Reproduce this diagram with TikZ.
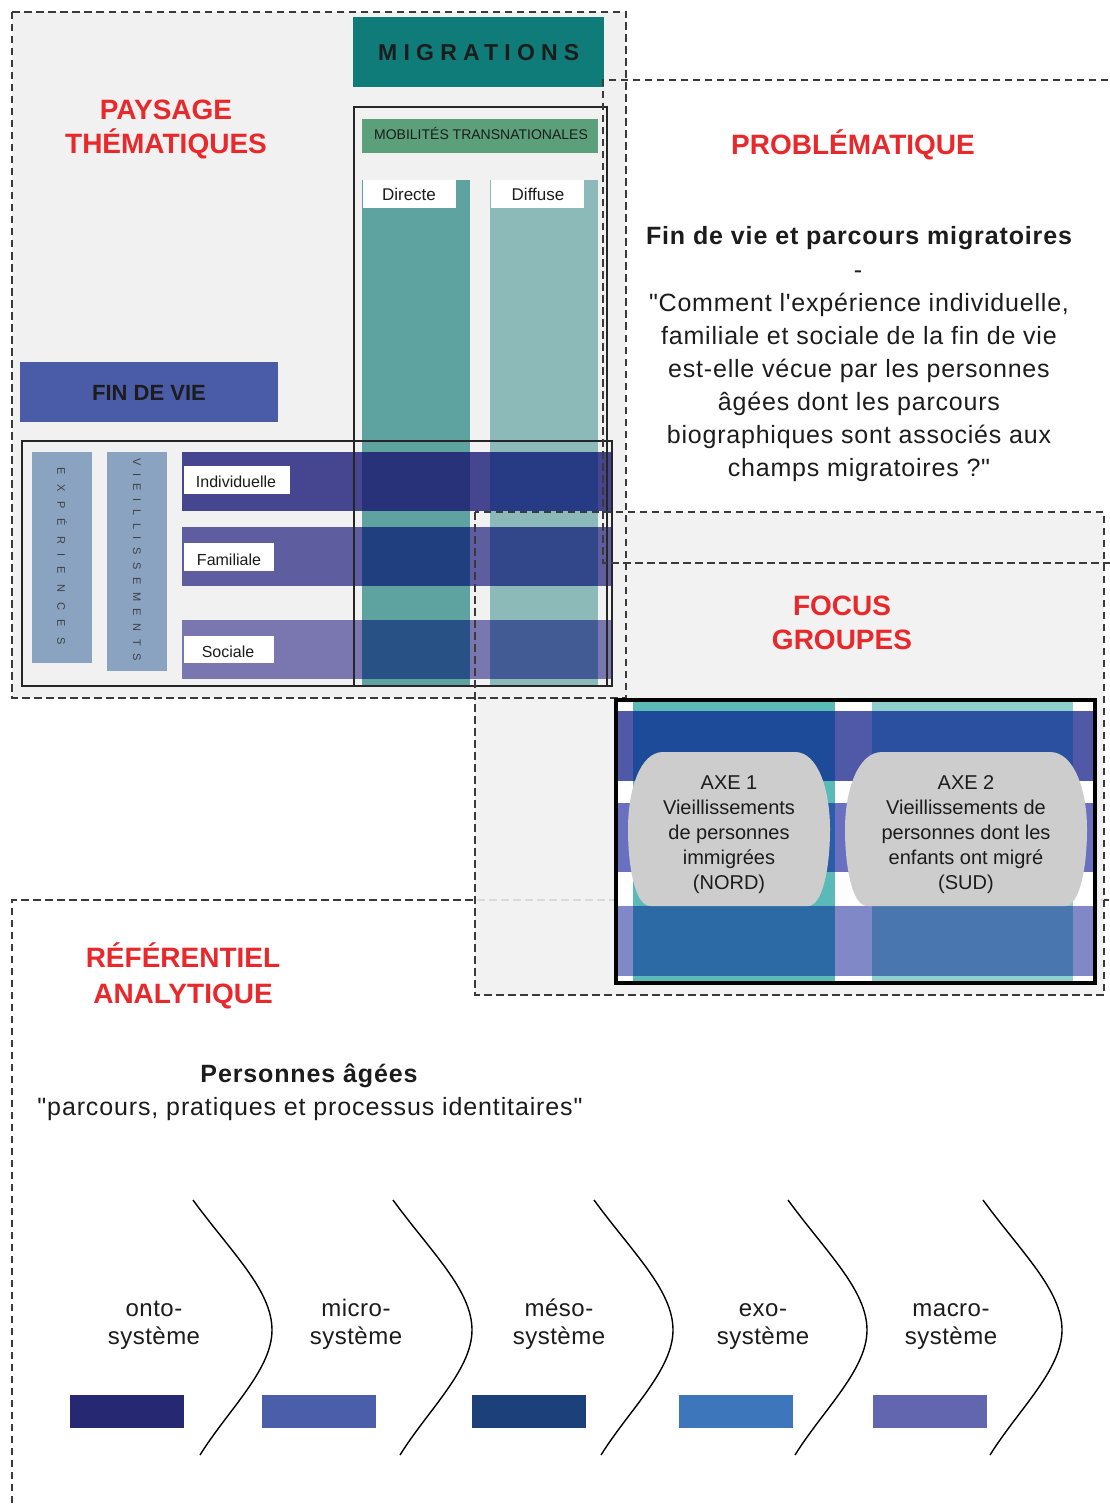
\documentclass[tikz,border=0pt]{standalone}
\usepackage{fontspec}
\setmainfont{Liberation Sans}[Ligatures=TeXOff]
\definecolor{bggray}{HTML}{F0F1F0}
\definecolor{dashgray}{HTML}{3A3A3A}
\definecolor{titlered}{HTML}{E8282A}
\definecolor{txtblack}{HTML}{1C1C1C}
\definecolor{migteal}{HTML}{0F7C7A}
\definecolor{mobgreen}{HTML}{5BA07A}
\definecolor{colD}{HTML}{5FA3A0}
\definecolor{colF}{HTML}{8BBAB8}
\definecolor{fdv}{HTML}{4A5BA8}
\definecolor{vbar}{HTML}{8AA3C0}
\definecolor{ind}{HTML}{45468F}
\definecolor{indD}{HTML}{283278}
\definecolor{indF}{HTML}{273A84}
\definecolor{fam}{HTML}{5E5DA0}
\definecolor{famD}{HTML}{203F7F}
\definecolor{famF}{HTML}{32468A}
\definecolor{soc}{HTML}{7A77B0}
\definecolor{socD}{HTML}{285286}
\definecolor{socF}{HTML}{435B95}
\definecolor{fcL}{HTML}{5BBAB8}
\definecolor{fcR}{HTML}{8ED0CE}
\definecolor{bA}{HTML}{5058A8}
\definecolor{bAL}{HTML}{1E4A9A}
\definecolor{bAR}{HTML}{2C50A0}
\definecolor{bB}{HTML}{6A70C0}
\definecolor{bBL}{HTML}{2A5CA8}
\definecolor{bBR}{HTML}{3A58A8}
\definecolor{bC}{HTML}{8088C8}
\definecolor{bCL}{HTML}{2B6AA5}
\definecolor{bCR}{HTML}{4A76B0}
\definecolor{axegray}{HTML}{CDCDCD}
\definecolor{sA}{HTML}{262872}
\definecolor{sB}{HTML}{4A5EAA}
\definecolor{sC}{HTML}{1C4079}
\definecolor{sD}{HTML}{3E76BC}
\definecolor{sE}{HTML}{6166AE}
\begin{document}
\begin{tikzpicture}[x=1pt,y=-1pt,
  dsh/.style={draw=dashgray, line width=1.6pt, dash pattern=on 7.5pt off 4.5pt},
  redtitle/.style={text=titlered, font=\fontsize{28}{32}\selectfont\bfseries, inner sep=0pt, anchor=base},
  bodytxt/.style={text=txtblack, font=\fontsize{25}{30}\selectfont\addfontfeature{LetterSpace=3.2}, inner sep=0pt, anchor=base},
  bodybold/.style={text=txtblack, font=\fontsize{25}{30}\selectfont\bfseries\addfontfeature{LetterSpace=3.5}, inner sep=0pt, anchor=base},
  smalllbl/.style={text=txtblack, font=\fontsize{16}{18}\selectfont, inner sep=0pt, anchor=base},
  axetxt/.style={text=txtblack, font=\fontsize{20}{22}\selectfont, inner sep=0pt, anchor=base},
  systxt/.style={text=txtblack, font=\fontsize{24}{26}\selectfont\addfontfeature{LetterSpace=2}, inner sep=0pt, anchor=base},
  chevron/.style={draw=black, line width=1.4pt},
  frameline/.style={draw=black!85, line width=1.5pt},
]
\useasboundingbox (0,0) rectangle (1110,1506);
\begin{scope}
\clip (0,0) rectangle (1110,1506);
\fill[white] (0,0) rectangle (1110,1506);

% referentiel frame
\draw[dsh] (12,1515) -- (12,900) -- (1120,900);
% focus fill
\fill[bggray, fill opacity=0.88] (475,512) rectangle (1104,995);

% paysage box
\fill[bggray] (12,12) rectangle (626,698);
\draw[dsh] (12,12) rectangle (626,698);

% migrations
\fill[migteal] (353,17) rectangle (604,87);
\node[anchor=base west, inner sep=0pt, text=txtblack, font=\fontsize{23}{26}\selectfont\bfseries\addfontfeature{LetterSpace=27}] (mig) at (378,61) {MIGRATIONS};

% mobilites
\fill[mobgreen] (362,119) rectangle (598,153);
\node[anchor=base, inner sep=0pt, text=txtblack, font=\fontsize{14}{16}\selectfont] (mob) at (481,140) {MOBILITÉS TRANSNATIONALES};
\fill[colD] (362,180) rectangle (470,686);
\fill[colF] (490,180) rectangle (598,686);
\fill[white] (363,180) rectangle (456,208);
\fill[white] (491,180) rectangle (584,208);
\node[anchor=base, inner sep=0pt, text=txtblack, font=\fontsize{17}{18}\selectfont] (dir) at (409,201) {Directe};
\node[anchor=base, inner sep=0pt, text=txtblack, font=\fontsize{17}{18}\selectfont] (dif) at (538,201) {Diffuse};

% fin de vie
\fill[fdv] (20,362) rectangle (278,422);
\node[anchor=base, inner sep=0pt, text=txtblack, font=\fontsize{22}{24}\selectfont\bfseries] (fdvt) at (149,400) {FIN DE VIE};

% vertical bars
\fill[vbar] (32,452) rectangle (92,663);
\fill[vbar] (107,452) rectangle (167,671);
\node[rotate=-90, anchor=west, inner sep=0pt, text=black!75, font=\fontsize{11}{12}\selectfont\addfontfeature{LetterSpace=90}] (exp) at (62,467) {EXPÉRIENCES};
\node[rotate=-90, anchor=west, inner sep=0pt, text=black!75, font=\fontsize{11}{12}\selectfont\addfontfeature{LetterSpace=69}] (vie) at (137,458) {VIEILLISSEMENTS};

% horizontal bars
\fill[ind] (182,452) rectangle (612,511);
\fill[fam] (182,527) rectangle (612,586);
\fill[soc] (182,620) rectangle (612,679);
\fill[indD] (362,452) rectangle (470,511);
\fill[indF] (490,452) rectangle (598,511);
\fill[famD] (362,527) rectangle (470,586);
\fill[famF] (490,527) rectangle (598,586);
\fill[socD] (362,620) rectangle (470,679);
\fill[socF] (490,620) rectangle (598,679);
\fill[white] (184,466) rectangle (290,494);
\fill[white] (184,543) rectangle (274,571);
\fill[white] (184,636) rectangle (274,663);
\node[smalllbl] (lind) at (236,487) {Individuelle};
\node[smalllbl] (lfam) at (229,565) {Familiale};
\node[smalllbl] (lsoc) at (228,657) {Sociale};

% frames
\draw[frameline] (354,107) rectangle (607,686);
\draw[frameline] (22,441) rectangle (612,686);

% problematique + focus dashed outlines
\draw[dsh] (1120,80) -- (603,80) -- (603,563) -- (1120,563);
\draw[dsh] (475,512) rectangle (1104,995);

% titles
\node[redtitle] (pay1) at (166,120) {PAYSAGE};
\node[redtitle] (pay2) at (166,154) {THÉMATIQUES};
\node[redtitle] (prob) at (853,155) {PROBLÉMATIQUE};
\node[redtitle] (foc1) at (842,615) {FOCUS};
\node[redtitle] (foc2) at (842,649) {GROUPES};
\node[redtitle] (ref1) at (183,967) {RÉFÉRENTIEL};
\node[redtitle] (ref2) at (183,1003) {ANALYTIQUE};

% problematique body
\node[bodybold] (pq0) at (859,245) {Fin de vie et parcours migratoires};
\node[bodytxt] (pq1) at (858,278) {-};
\node[bodytxt] (pq2) at (859,311) {"Comment l'expérience individuelle,};
\node[bodytxt] (pq3) at (859,344) {familiale et sociale de la fin de vie};
\node[bodytxt] (pq4) at (859,377) {est-elle vécue par les personnes};
\node[bodytxt] (pq5) at (859,410) {âgées dont les parcours};
\node[bodytxt] (pq6) at (859,443) {biographiques sont associés aux};
\node[bodytxt] (pq7) at (859,476) {champs migratoires ?"};

% focus frame contents
\fill[white] (616,700) rectangle (1095,983);
\fill[fcL] (633,702) rectangle (835,982);
\fill[fcR] (872,702) rectangle (1073,982);
\fill[bA] (618,711) rectangle (1093,781);
\fill[bAL] (633,711) rectangle (835,781);
\fill[bAR] (872,711) rectangle (1073,781);
\fill[bB] (618,803) rectangle (1093,872);
\fill[bBL] (633,803) rectangle (835,872);
\fill[bBR] (872,803) rectangle (1073,872);
\fill[bC] (618,906) rectangle (1093,976);
\fill[bCL] (633,906) rectangle (835,976);
\fill[bCR] (872,906) rectangle (1073,976);
% axe shapes
\fill[axegray] (663,752) -- (795,752) .. controls (818,752) and (830,790) .. (830,829)
  .. controls (830,870) and (822,906) .. (808,906) -- (650,906)
  .. controls (636,906) and (628,870) .. (628,829)
  .. controls (628,790) and (640,752) .. (663,752) -- cycle;
\fill[axegray] (882,752) -- (1050,752) .. controls (1074,752) and (1087,790) .. (1087,829)
  .. controls (1087,870) and (1079,906) .. (1065,906) -- (867,906)
  .. controls (853,906) and (845,870) .. (845,829)
  .. controls (845,790) and (858,752) .. (882,752) -- cycle;
\draw[black, line width=4pt] (616,700) rectangle (1095,983);
\node[axetxt] (a1a) at (729,789) {AXE 1};
\node[axetxt] (a1b) at (729,814) {Vieillissements};
\node[axetxt] (a1c) at (729,839) {de personnes};
\node[axetxt] (a1d) at (729,864) {immigrées};
\node[axetxt] (a1e) at (729,889) {(NORD)};
\node[axetxt] (a2a) at (966,789) {AXE 2};
\node[axetxt] (a2b) at (966,814) {Vieillissements de};
\node[axetxt] (a2c) at (966,839) {personnes dont les};
\node[axetxt] (a2d) at (966,864) {enfants ont migré};
\node[axetxt] (a2e) at (966,889) {(SUD)};

% referentiel content
\node[bodybold] (pers) at (309,1082) {Personnes âgées};
\node[bodytxt, font=\fontsize{25}{30}\selectfont\addfontfeature{LetterSpace=3.5}] (persq) at (310,1115) {"parcours, pratiques et processus identitaires"};

\foreach \cx in {193,393,594,788,983}{
  \draw[chevron] (\cx,1200) .. controls (\cx+38,1252) and (\cx+79,1290) .. (\cx+79,1330)
     .. controls (\cx+79,1370) and (\cx+35,1410) .. (\cx+7,1455);
}
\node[systxt] (s1a) at (154,1316) {onto-};
\node[systxt] (s1b) at (154,1344) {système};
\node[systxt] (s2a) at (356,1316) {micro-};
\node[systxt] (s2b) at (356,1344) {système};
\node[systxt] (s3a) at (559,1316) {méso-};
\node[systxt] (s3b) at (559,1344) {système};
\node[systxt] (s4a) at (763,1316) {exo-};
\node[systxt] (s4b) at (763,1344) {système};
\node[systxt] (s5a) at (951,1316) {macro-};
\node[systxt] (s5b) at (951,1344) {système};
\fill[sA] (70,1395) rectangle (184,1428);
\fill[sB] (262,1395) rectangle (376,1428);
\fill[sC] (472,1395) rectangle (586,1428);
\fill[sD] (679,1395) rectangle (793,1428);
\fill[sE] (873,1395) rectangle (987,1428);
\end{scope}
\end{tikzpicture}
\end{document}
